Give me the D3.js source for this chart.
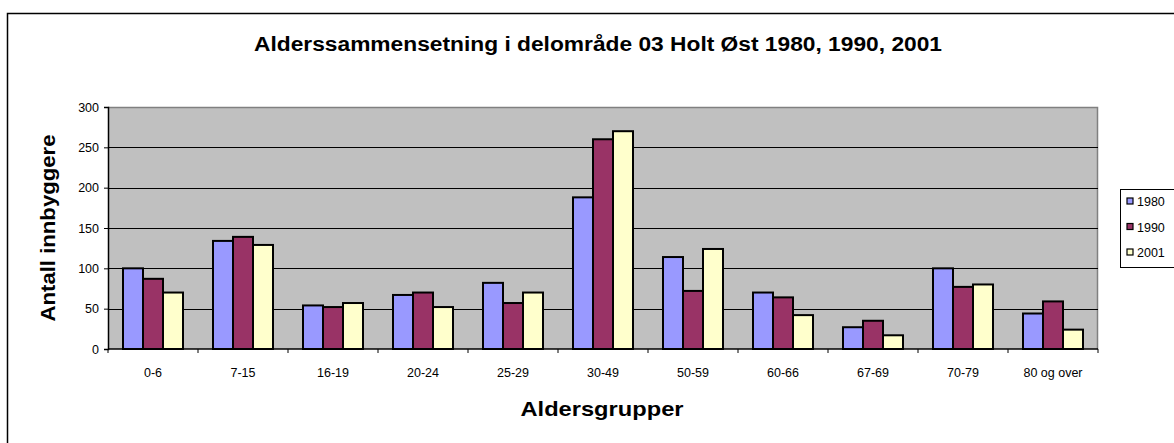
<!DOCTYPE html>
<html>
<head>
<meta charset="utf-8">
<script src="https://cdn.jsdelivr.net/npm/d3@7"></script>
<style>
  body { margin: 0; background: #fff; }
  text { font-family: "Liberation Sans", Arial, sans-serif; fill: #000; }
</style>
</head>
<body>
<div id="chart"></div>
<script>
// age groups and counts per census year
var categories = ['0-6', '7-15', '16-19', '20-24', '25-29', '30-49', '50-59', '60-66', '67-69', '70-79', '80 og over'];
var years = ['1980', '1990', '2001'];
var values1980 = [100, 134, 54, 67, 82, 188, 114, 70, 27, 100, 44];
var values1990 = [87, 139, 52, 70, 57, 260, 72, 64, 35, 77, 59];
var values2001 = [70, 129, 57, 52, 70, 270, 124, 42, 17, 80, 24];
var yTicks = [0, 50, 100, 150, 200, 250, 300];

var series = [values1980, values1990, values2001];
var colors = ['#9999FF', '#993366', '#FFFFCC'];

var svgWidth = 1174, svgHeight = 443;
var margin = { top: 107, left: 108, right: 76, bottom: 94 };
var width = svgWidth - margin.left - margin.right;
var height = svgHeight - margin.top - margin.bottom;

var svg = d3.select('#chart').append('svg')
    .attr('width', svgWidth)
    .attr('height', svgHeight);

// outer chart frame (right/bottom run off the picture)
svg.append('rect')
    .attr('x', 7.5).attr('y', 13.5)
    .attr('width', 1200).attr('height', 500)
    .attr('fill', 'none')
    .attr('stroke', '#000')
    .attr('stroke-width', 1.5);

var g = svg.append('g')
    .attr('transform', 'translate(' + margin.left + ',' + margin.top + ')');

var x0 = d3.scaleBand()
    .domain(categories)
    .range([0, width])
    .paddingInner(1 / 3)
    .paddingOuter(1 / 6);

var x1 = d3.scaleBand()
    .domain(years)
    .range([0, x0.bandwidth()]);

var y = d3.scaleLinear()
    .domain([0, 300])
    .range([height, 0]);

// plot background
g.append('rect')
    .attr('width', width)
    .attr('height', height)
    .attr('fill', '#C0C0C0');

g.append('path')
    .attr('d', 'M0,0.5H' + (width - 0.5) + 'V' + height)
    .attr('fill', 'none')
    .attr('stroke', '#808080')
    .attr('stroke-width', 1.5);

// gridlines
g.selectAll('.grid')
    .data(yTicks.filter(d => d > 0 && d < 300))
    .enter().append('line')
    .attr('x1', 0).attr('x2', width)
    .attr('y1', d => Math.round(y(d)) + 0.5)
    .attr('y2', d => Math.round(y(d)) + 0.5)
    .attr('stroke', '#000')
    .attr('stroke-width', 1);

// bars
var groups = g.selectAll('.group')
    .data(categories)
    .enter().append('g')
    .attr('transform', d => 'translate(' + x0(d) + ',0)');

groups.selectAll('rect')
    .data((d, i) => years.map((yr, j) => ({ year: yr, value: series[j][i], color: colors[j] })))
    .enter().append('rect')
    .attr('x', d => x1(d.year))
    .attr('y', d => y(d.value))
    .attr('width', x1.bandwidth())
    .attr('height', d => height - y(d.value))
    .attr('fill', d => d.color)
    .attr('stroke', '#000')
    .attr('stroke-width', 2);

// y axis
var yAxis = g.append('g')
    .call(d3.axisLeft(y).tickValues(yTicks).tickSize(4).tickPadding(5));
yAxis.select('.domain').attr('stroke', '#000').attr('stroke-width', 1.5);
yAxis.selectAll('text').style('font-size', '12.5px').attr('fill', '#000');

// x axis, ticks on category boundaries
var step = x0.step();
var xAxis = g.append('g')
    .attr('transform', 'translate(0,' + height + ')');
xAxis.append('line')
    .attr('x1', 0).attr('x2', width)
    .attr('stroke', '#000').attr('stroke-width', 1.5);
xAxis.selectAll('.tick')
    .data(d3.range(categories.length + 1))
    .enter().append('line')
    .attr('x1', i => i * step).attr('x2', i => i * step)
    .attr('y1', 0).attr('y2', 4)
    .attr('stroke', '#000');
xAxis.selectAll('.lbl')
    .data(categories)
    .enter().append('text')
    .attr('x', d => x0(d) + x0.bandwidth() / 2)
    .attr('y', 28)
    .attr('text-anchor', 'middle')
    .style('font-size', '12.5px')
    .text(d => d);

// titles
svg.append('text')
    .attr('x', 598).attr('y', 51)
    .attr('text-anchor', 'middle')
    .attr('textLength', 688)
    .attr('lengthAdjust', 'spacingAndGlyphs')
    .style('font-size', '20px')
    .style('font-weight', 'bold')
    .text('Alderssammensetning i delområde 03 Holt Øst 1980, 1990, 2001');

svg.append('text')
    .attr('x', 602).attr('y', 416)
    .attr('text-anchor', 'middle')
    .attr('textLength', 163)
    .attr('lengthAdjust', 'spacingAndGlyphs')
    .style('font-size', '21px')
    .style('font-weight', 'bold')
    .text('Aldersgrupper');

svg.append('text')
    .attr('transform', 'translate(55,228) rotate(-90)')
    .attr('text-anchor', 'middle')
    .attr('textLength', 187)
    .attr('lengthAdjust', 'spacingAndGlyphs')
    .style('font-size', '21px')
    .style('font-weight', 'bold')
    .text('Antall innbyggere');

// legend
var legend = svg.append('g').attr('transform', 'translate(1120,189)');
legend.append('rect')
    .attr('x', 0.5).attr('y', 0.5)
    .attr('width', 60).attr('height', 78)
    .attr('fill', '#fff')
    .attr('stroke', '#000');
var keys = legend.selectAll('.key')
    .data(years)
    .enter().append('g')
    .attr('transform', (d, i) => 'translate(0,' + (13 + i * 25.5) + ')');
keys.append('rect')
    .attr('x', 7).attr('y', -4)
    .attr('width', 6).attr('height', 6)
    .attr('fill', (d, i) => colors[i])
    .attr('stroke', '#000')
    .attr('stroke-width', 1.2);
keys.append('text')
    .attr('x', 17).attr('y', 4)
    .style('font-size', '12.5px')
    .text(d => d);
</script>
</body>
</html>
